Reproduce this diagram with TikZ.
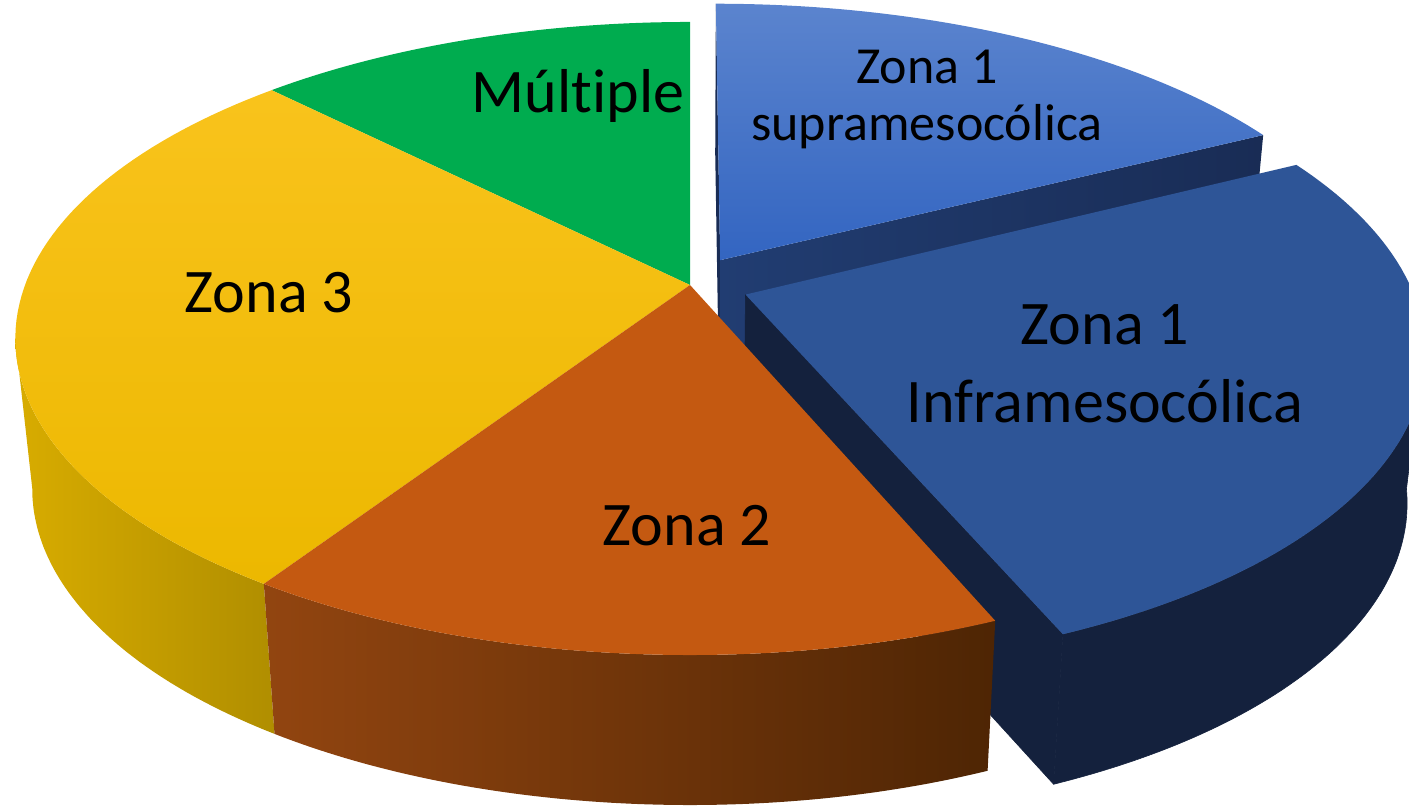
\documentclass[tikz,border=0pt]{standalone}
\usepackage{fontspec}
\setmainfont{Carlito}[Ligatures=NoCommon]
\usetikzlibrary{calc}

\definecolor{greentop}{HTML}{00AC4F}
\definecolor{yellowtopA}{HTML}{F9C31C}
\definecolor{yellowtopB}{HTML}{ECB800}
\definecolor{yellowsideA}{HTML}{D8AC00}
\definecolor{yellowsideB}{HTML}{B08E00}
\definecolor{orangetop}{HTML}{C45911}
\definecolor{orangesideA}{HTML}{924510}
\definecolor{orangesideB}{HTML}{4E2504}
\definecolor{supratopA}{HTML}{5B84CE}
\definecolor{supratopB}{HTML}{3365C1}
\definecolor{suprafaceA}{HTML}{213D72}
\definecolor{suprafaceB}{HTML}{192C55}
\definecolor{infratop}{HTML}{2E5597}
\definecolor{infraside}{HTML}{14213D}

% top face of a slice: colour/shading, from, to, shift x, shift z
\newcommand\slicetop[5]{%
  \path[#1] ({ax(#4,#5)},{ay(#4,#5)})
    -- plot[domain=#2:#3, samples=70] ({tx(\x,#4,#5)},{ty(\x,#4,#5)}) -- cycle;}
% outer side of a slice
\newcommand\slicerim[5]{%
  \path[#1] plot[domain=#2:#3, samples=70] ({tx(\x,#4,#5)},{ty(\x,#4,#5)})
    -- plot[domain=#3:#2, samples=70] ({bx(\x,#4,#5)},{by(\x,#4,#5)}) -- cycle;}
% cut face of a slice at one angle
\newcommand\slicecut[4]{%
  \path[#1] ({ax(#3,#4)},{ay(#3,#4)}) -- ({tx(#2,#3,#4)},{ty(#2,#3,#4)})
    -- ({bx(#2,#3,#4)},{by(#2,#3,#4)}) -- ({bax(#3,#4)},{ay(#3,#4)+150}) -- cycle;}

\begin{document}
\begin{tikzpicture}[x=1pt, y=-1pt,
    declare function={
      den(\t,\oz)=1+0.169*(\oz+sin(\t));
      tx(\t,\ox,\oz)=690+665*(\ox+cos(\t))/den(\t,\oz);
      ty(\t,\ox,\oz)=285-307.5*(\oz+sin(\t))/den(\t,\oz);
      bx(\t,\ox,\oz)=690+0.975*665*(\ox+cos(\t))/den(\t,\oz);
      by(\t,\ox,\oz)=ty(\t,\ox,\oz)+150;
      ax(\ox,\oz)=690+665*\ox/(1+0.169*\oz);
      bax(\ox,\oz)=690+0.975*665*\ox/(1+0.169*\oz);
      ay(\ox,\oz)=285-307.5*\oz/(1+0.169*\oz);
    },
    dark side/.style={fill=infraside, draw=infraside, line width=0.6pt, line join=round},
    slice label/.style={font=\fontsize{62}{78}\selectfont, align=center, anchor=base},
    small label/.style={font=\fontsize{52}{57}\selectfont, align=center, anchor=base}]

  \useasboundingbox (0,0) rectangle (1409,808);
  \clip (0,0) rectangle (1409,808);

  % Zona 1 supramesocolica (exploded, back)
  \slicecut{fill=suprafaceB}{90}{0.046}{0.082}
  \slicecut{left color=suprafaceA, right color=suprafaceB}{26.7}{0.046}{0.082}
  \slicetop{top color=supratopA, bottom color=supratopB}{26.7}{90}{0.046}{0.082}

  % Zona 1 inframesocolica (exploded, front)
  \slicecut{dark side}{-67.2}{0.083}{-0.031}
  \slicerim{dark side}{-67.2}{-8}{0.083}{-0.031}
  \slicetop{fill=infratop}{-67.2}{26.7}{0.083}{-0.031}

  % Main body: sides
  \slicerim{left color=yellowsideA, right color=yellowsideB}{189.7}{236.6}{0}{0}
  \slicerim{left color=orangesideA, right color=orangesideB}{236.6}{292.8}{0}{0}

  % Main body: top faces
  \slicetop{fill=greentop}{90}{134.8}{0}{0}
  \slicetop{top color=yellowtopA, bottom color=yellowtopB}{134.8}{236.6}{0}{0}
  \slicetop{fill=orangetop}{236.6}{292.8}{0}{0}

  % Labels (base = last line)
  \node[slice label] (multiple) at (578,112) {Múltiple};
  \node[slice label] (zona3) at (269,312) {Zona 3};
  \node[slice label] (zona2) at (687,545) {Zona 2};
  \node[small label] (supra) at (927,140) {Zona 1\\supramesocólica};
  \node[slice label] (infra) at (1105,422) {Zona 1\\Inframesocólica};
\end{tikzpicture}
\end{document}
